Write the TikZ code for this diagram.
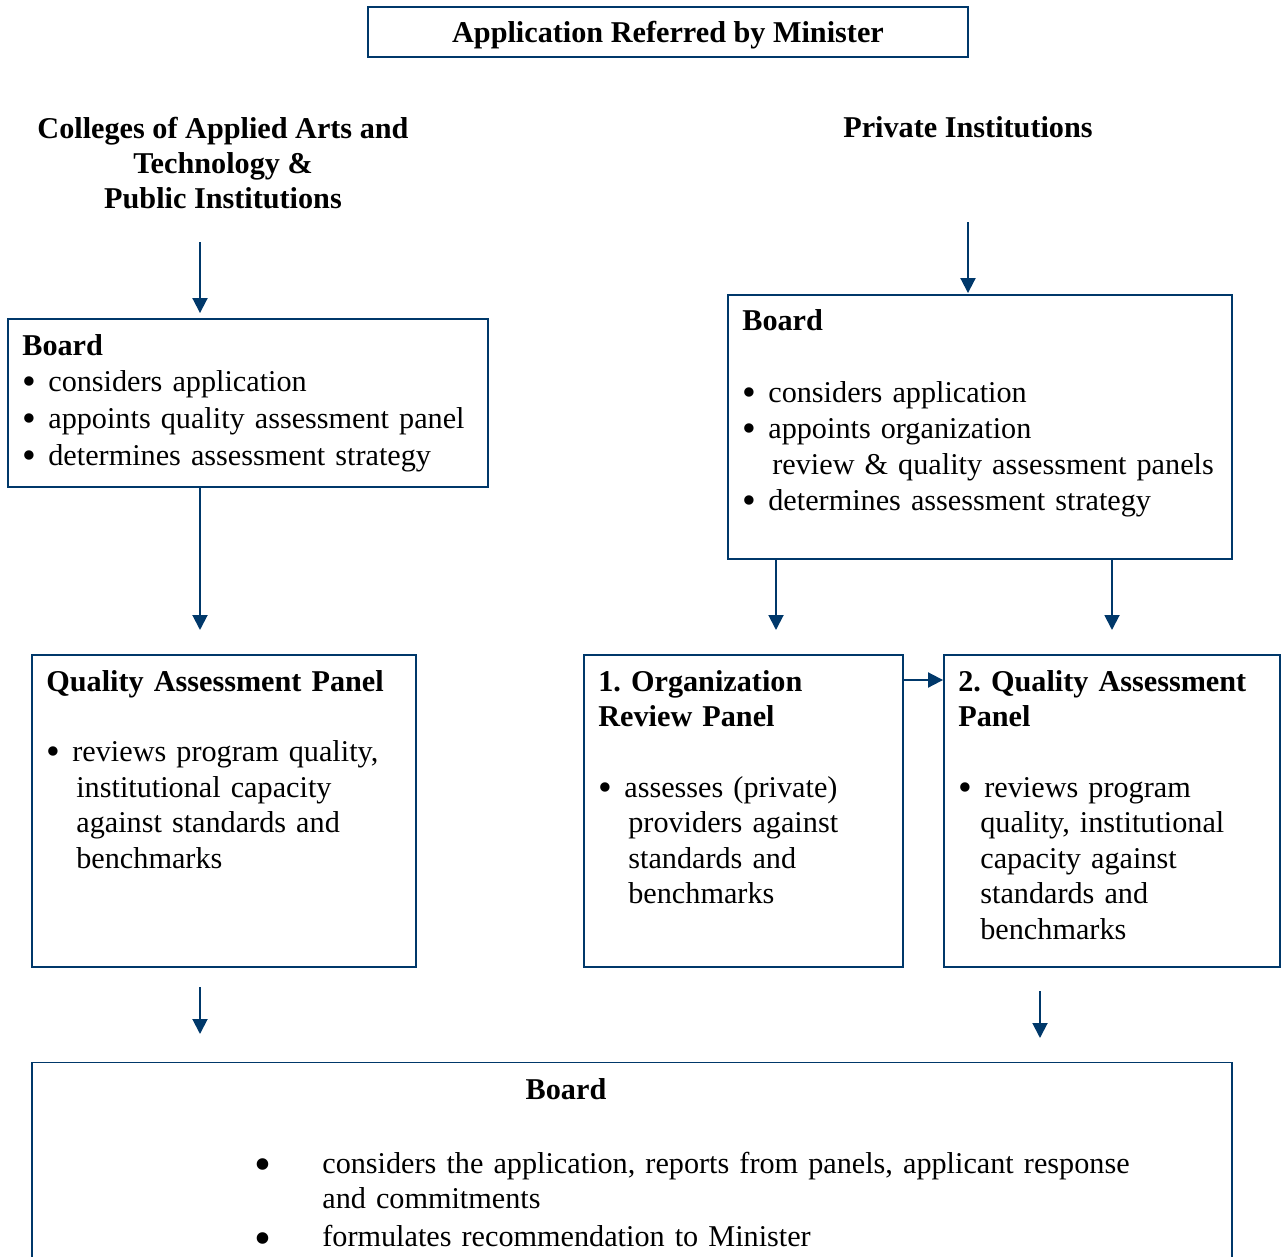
\documentclass[tikz,border=0pt]{standalone}
\usepackage{fontspec}
\setmainfont{Liberation Serif}
\usepackage{tikz}
\usetikzlibrary{arrows.meta, positioning}
\definecolor{navy}{RGB}{0,56,106}
\tikzstyle{panel} = [rectangle, draw=navy, line width=1.1pt, inner sep=0pt]
\tikzstyle{body} = [inner sep=0pt, align=left, anchor=base west, font=\fontsize{17.2}{20.2}\selectfont\frenchspacing]
\tikzstyle{head} = [inner sep=0pt, align=center, anchor=base, font=\fontsize{17.2}{20.2}\selectfont\bfseries]
\tikzstyle{arrow} = [navy, line width=1.1pt, -{Triangle[width=0.3cm, length=0.3cm]}]
\newcommand{\bul}{\makebox[0.52cm][l]{\raisebox{-1.5pt}{\scalebox{1.3}{\textbullet}}}}
\newcommand{\bigbul}{\makebox[1.2cm][l]{\hspace*{-4.6pt}\raisebox{-4.5pt}{\scalebox{1.6}{\textbullet}}}}

\begin{document}
\begin{tikzpicture}[x=0.02cm, y=-0.02cm]
\useasboundingbox (0,0) rectangle (1282,1257);
\clip (0,0) rectangle (1282,1257);

\node (top) [panel, minimum width=12cm, minimum height=1cm] at (668,32) {};
\node (toptxt) [head] at (668,43) {Application Referred by Minister};

\node (collhead) [head] at (223,209) {Colleges of Applied Arts and\\Technology \&\\Public Institutions};
\node (privhead) [head] at (968,138) {Private Institutions};

\node (lboard) [panel, minimum width=9.6cm, minimum height=3.36cm] at (248,403) {};
\node (lboardtxt) [body, text width=9.2cm, font=\fontsize{17.2}{21}\selectfont] at (22,355) {\textbf{Board}\\
\bul considers application\\
\bul appoints quality assessment panel\\
\bul determines assessment strategy};

\node (rboard) [panel, minimum width=10.08cm, minimum height=5.28cm] at (980,427) {};
\node (rboardtxt) [body, text width=9.8cm, font=\fontsize{17.2}{20.6}\selectfont] at (742,330) {\textbf{Board}\\[20.6pt]
\bul considers application\\
\bul appoints organization\\
\hspace*{0.6cm}review \& quality assessment panels\\
\bul determines assessment strategy};

\node (lqap) [panel, minimum width=7.68cm, minimum height=6.24cm] at (224,811) {};
\node (lqaptxt) [body, text width=7.4cm] at (46,691) {\textbf{Quality Assessment Panel}\\[20.2pt]
\bul reviews program quality,\\
\hspace*{0.6cm}institutional capacity\\
\hspace*{0.6cm}against standards and\\
\hspace*{0.6cm}benchmarks};

\node (orp) [panel, minimum width=6.38cm, minimum height=6.24cm] at (743.5,811) {};
\node (orptxt) [body, text width=6.2cm] at (598,691) {\textbf{1. Organization}\\
\textbf{Review Panel}\\[20.2pt]
\bul assesses (private)\\
\hspace*{0.6cm}providers against\\
\hspace*{0.6cm}standards and\\
\hspace*{0.6cm}benchmarks};

\node (qap) [panel, minimum width=6.72cm, minimum height=6.24cm] at (1112,811) {};
\node (qaptxt) [body, text width=6.4cm] at (958,691) {\textbf{2. Quality Assessment}\\
\textbf{Panel}\\[20.2pt]
\bul reviews program\\
\hspace*{0.44cm}quality, institutional\\
\hspace*{0.44cm}capacity against\\
\hspace*{0.44cm}standards and\\
\hspace*{0.44cm}benchmarks};

\node (bboard) [panel, minimum width=24cm, minimum height=4.7cm] at (632,1180) {};
\node (bboardhead) [head] at (566,1099) {Board};
\node (bboardtxt) [body, text width=19cm] at (262,1173) {\bigbul considers the application, reports from panels, applicant response\\
\hspace*{1.2cm}and commitments\\[1.5pt]
\bigbul formulates recommendation to Minister};

\coordinate (a1) at (200,242);
\coordinate (a2) at (968,222);
\coordinate (a3) at (200,630);
\coordinate (b1) at (776,630);
\coordinate (b2) at (1112,630);
\coordinate (h1) at (903,680);
\coordinate (d1) at (200,987);
\coordinate (d2) at (200,1034);
\coordinate (e1) at (1040,991);
\coordinate (e2) at (1040,1038);

\draw [arrow, shorten >=0.1cm] (a1) -- (a1 |- lboard.north);
\draw [arrow, shorten >=0.02cm] (a2) -- (a2 |- rboard.north);
\draw [arrow] (lboard.south -| a3) -- (a3);
\draw [arrow] (rboard.south -| b1) -- (b1);
\draw [arrow] (rboard.south -| b2) -- (b2);
\draw [arrow] (h1) -- (h1 -| qap.west);
\draw [arrow] (d1) -- (d2);
\draw [arrow] (e1) -- (e2);

\end{tikzpicture}
\end{document}
